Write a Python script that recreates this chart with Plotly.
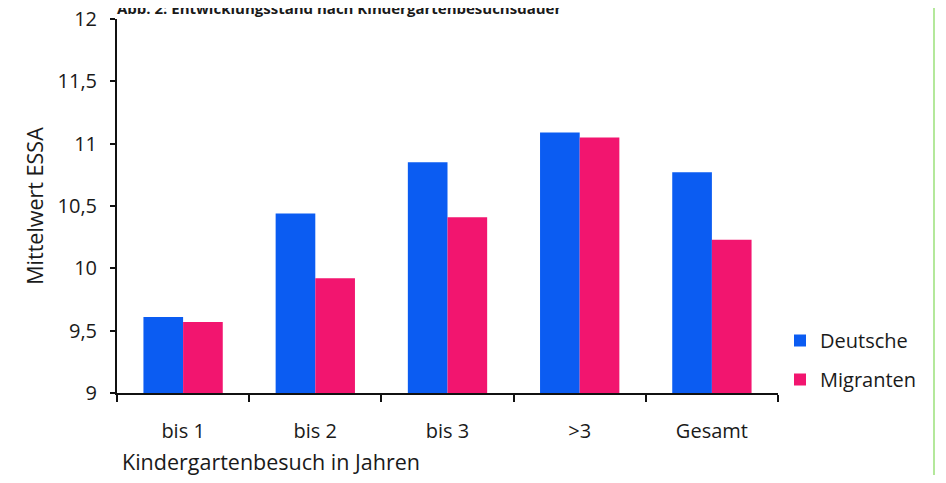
import plotly.graph_objects as go

categories = ["bis 1", "bis 2", "bis 3", ">3", "Gesamt"]
deutsche = [9.61, 10.44, 10.85, 11.09, 10.77]
migranten = [9.57, 9.92, 10.41, 11.05, 10.23]
y_ticks = [9, 9.5, 10, 10.5, 11, 11.5, 12]

FONT = "Open Sans"
TXT = "#1a1a1a"
FS = 20
FT = 21.5

# page is shown with an 8px body margin, so figure coords = screen - 8
W, H = 930, 467
L, T = 109, 11
pw, ph = 661, 374
R = W - L - pw
B = H - T - ph

fig = go.Figure()
fig.add_trace(go.Bar(x=categories, y=deutsche, name="Deutsche",
                     marker=dict(color="#0b5cf2", line=dict(width=0)),
                     legendgroup="a"))
fig.add_trace(go.Bar(x=categories, y=migranten, name="Migranten",
                     marker=dict(color="#f2156f", line=dict(width=0)),
                     legendgroup="b"))

fig.update_layout(
    width=W, height=H,
    margin=dict(l=L, r=R, t=T, b=B, autoexpand=False),
    paper_bgcolor="white", plot_bgcolor="white",
    separators=",.",
    barmode="group", bargap=0.4, bargroupgap=0,
    font=dict(family=FONT, size=FS, color=TXT),
    showlegend=True,
    legend=dict(x=(772 - L) / pw, xanchor="left",
                y=1 - (313 - T) / ph, yanchor="top",
                font=dict(size=FS, color=TXT),
                tracegroupgap=10, itemwidth=30,
                bgcolor="rgba(0,0,0,0)"),
    xaxis=dict(showline=True, linecolor="#111", linewidth=2,
               ticks="outside", ticklen=7, tickwidth=1.5, tickcolor="#111",
               tickson="boundaries", ticklabelstandoff=19,
               ticklabeloverflow="allow",
               showgrid=False, zeroline=False, automargin=False,
               tickfont=dict(size=FS, color=TXT)),
    yaxis=dict(range=[9, 12], tickvals=y_ticks,
               showline=True, linecolor="#111", linewidth=2,
               ticks="outside", ticklen=5, tickwidth=1.5, tickcolor="#111",
               ticklabelstandoff=9, ticklabeloverflow="allow",
               showgrid=False, zeroline=False, automargin=False,
               tickfont=dict(size=FS, color=TXT),
               title=dict(text="Mittelwert ESSA", standoff=8,
                          font=dict(size=FT, color=TXT))),
)

fig.add_annotation(text="Kindergartenbesuch in Jahren", xref="paper", yref="paper",
                   x=(112 - L) / pw, y=-(B + 3) / ph,
                   xanchor="left", yanchor="bottom", showarrow=False,
                   font=dict(size=FT, color=TXT))

fig.add_annotation(text="<b>Abb. 2: Entwicklungsstand nach Kindergartenbesuchsdauer</b>",
                   xref="paper", yref="paper",
                   x=(107 - L) / pw, y=1 + (T - 12) / ph,
                   xanchor="left", yanchor="bottom", showarrow=False,
                   font=dict(size=15, color=TXT))

fig.add_shape(type="line", xref="paper", yref="paper",
              x0=(926 - L) / pw, x1=(926 - L) / pw,
              y0=-B / ph, y1=1 + T / ph,
              line=dict(color="#9be07a", width=1.5))

fig.write_html("out.html")
